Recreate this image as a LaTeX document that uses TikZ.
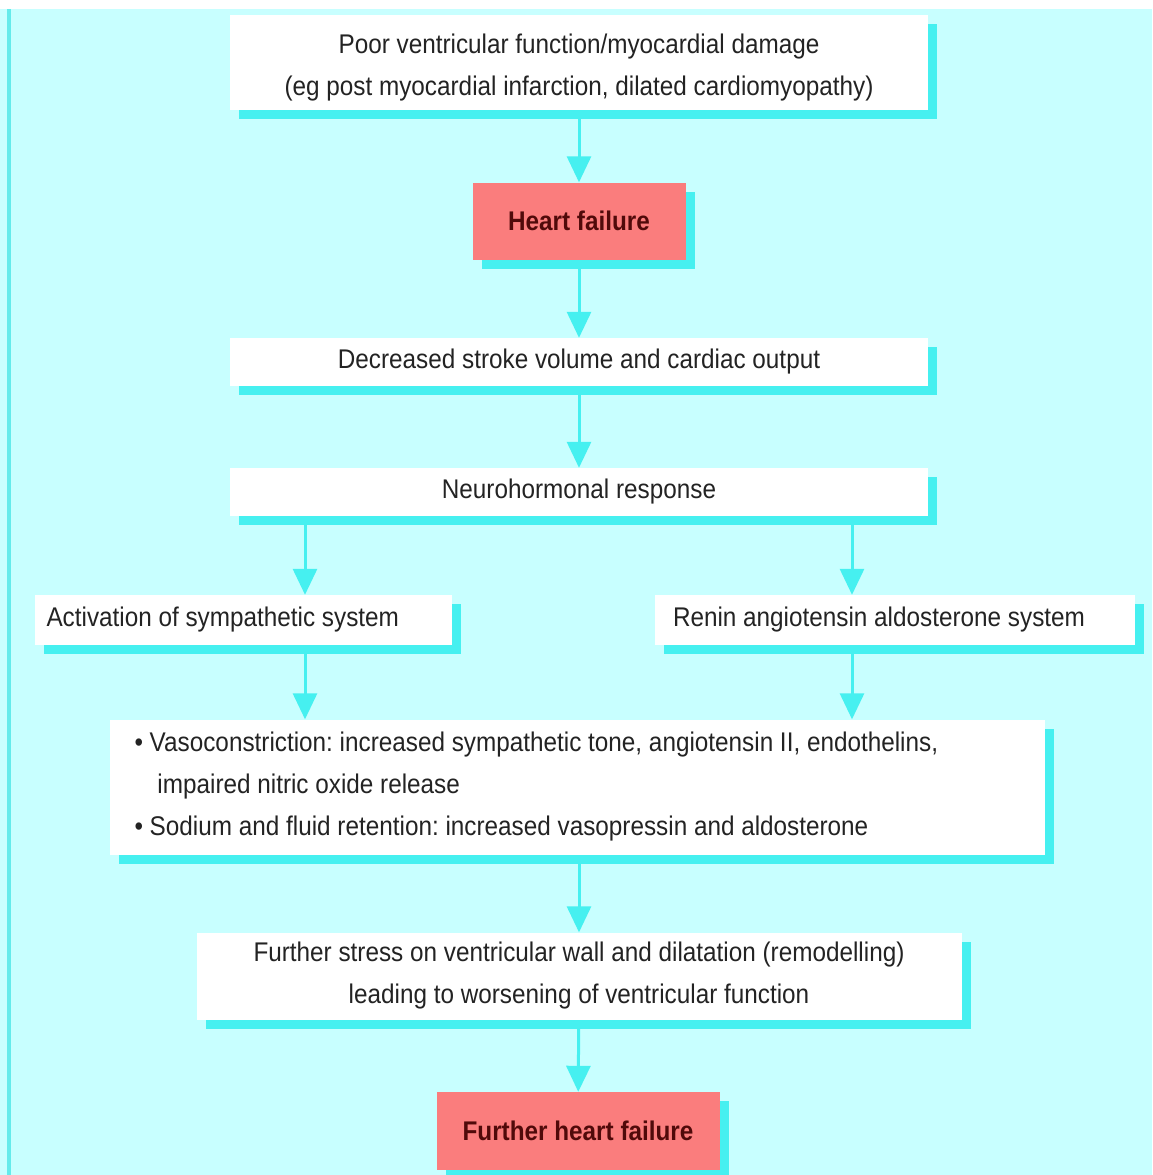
\documentclass[tikz,border=0pt]{standalone}
\usepackage{fontspec}
\setmainfont{Liberation Sans}[FakeStretch=0.9]
\usetikzlibrary{arrows.meta, shadows}
\definecolor{bgcyan}{RGB}{200,255,255}
\definecolor{edgecyan}{RGB}{100,235,235}
\definecolor{shadecyan}{RGB}{70,240,240}
\definecolor{alertred}{RGB}{250,125,125}
\definecolor{darkred}{RGB}{80,10,10}
\definecolor{inkgray}{RGB}{35,35,35}
\frenchspacing

\begin{document}
\begin{tikzpicture}[x=1pt, y=-1pt, >=Triangle]

        % --- Styles ---
        \tikzset{
            flow/.style={-{Triangle[width=24pt,length=26pt]}, line width=3pt, shadecyan},
            whitebox/.style={fill=white, text=inkgray, inner sep=0pt,
                drop shadow={shadow xshift=9pt, shadow yshift=-9pt, fill=shadecyan, opacity=1},
                font=\fontsize{27}{42}\selectfont},
            redbox/.style={whitebox, fill=alertred, text=darkred, font=\fontsize{27}{42}\selectfont\bfseries}
        }

        % --- Fond ---
        \useasboundingbox (0,0) rectangle (1152,1175);
        \fill[bgcyan] (0,9) rectangle (1152,1175);
        \fill[edgecyan] (7,9) rectangle (11,1175);

        % --- Colonne centrale ---
        \node[whitebox, minimum width=698pt, minimum height=95pt, align=center] (damage) at (579,62)
            {\rule{0pt}{30pt}Poor ventricular function/myocardial damage\\
             (eg post myocardial infarction, dilated cardiomyopathy)};
        \node[redbox, minimum width=213pt, minimum height=77pt] (hf) at (579,221) {Heart failure};
        \node[whitebox, minimum width=698pt, minimum height=48pt] (output) at (579,362)
            {Decreased stroke volume and cardiac output};
        \node[whitebox, minimum width=698pt, minimum height=48pt] (neuro) at (579,492)
            {Neurohormonal response};

        % --- Deux branches ---
        \node[whitebox, minimum width=417pt, minimum height=50pt, text width=393pt, inner xsep=12pt, align=flush left] (symp) at (243,620)
            {Activation of sympathetic system};
        \node[whitebox, minimum width=480pt, minimum height=50pt, text width=444pt, inner xsep=18pt, align=flush left] (raas) at (895,620)
            {Renin angiotensin aldosterone system};

        % --- Effets ---
        \node[whitebox, minimum width=935pt, minimum height=135pt, text width=885pt, inner xsep=25pt, align=flush left] (effects) at (577,787)
            {\textbullet\ Vasoconstriction: increased sympathetic tone, angiotensin II, endothelins,\\
             \hspace*{0.85em}impaired nitric oxide release\\
             \textbullet\ Sodium and fluid retention: increased vasopressin and aldosterone};
        \node[whitebox, minimum width=765pt, minimum height=87pt, align=center] (remodel) at (579,976)
            {Further stress on ventricular wall and dilatation (remodelling)\\
             leading to worsening of ventricular function};
        \node[redbox, minimum width=283pt, minimum height=78pt] (fhf) at (578,1131) {Further heart failure};

        % --- Flèches ---
        \coordinate (leftx) at (305,0);
        \coordinate (rightx) at (852,0);
        \draw[flow, shorten <=9pt] (damage) -- (hf);
        \draw[flow, shorten <=9pt] (hf) -- (output);
        \draw[flow, shorten <=9pt] (output) -- (neuro);
        \draw[flow, shorten <=9pt] (neuro.south -| leftx) -- (symp.north -| leftx);
        \draw[flow, shorten <=9pt] (neuro.south -| rightx) -- (raas.north -| rightx);
        \draw[flow, shorten <=9pt] (symp.south -| leftx) -- (effects.north -| leftx);
        \draw[flow, shorten <=9pt] (raas.south -| rightx) -- (effects.north -| rightx);
        \draw[flow, shorten <=9pt] (effects.south -| hf) -- (remodel.north -| hf);
        \draw[flow, shorten <=9pt] (remodel) -- (fhf);

\end{tikzpicture}
\end{document}
